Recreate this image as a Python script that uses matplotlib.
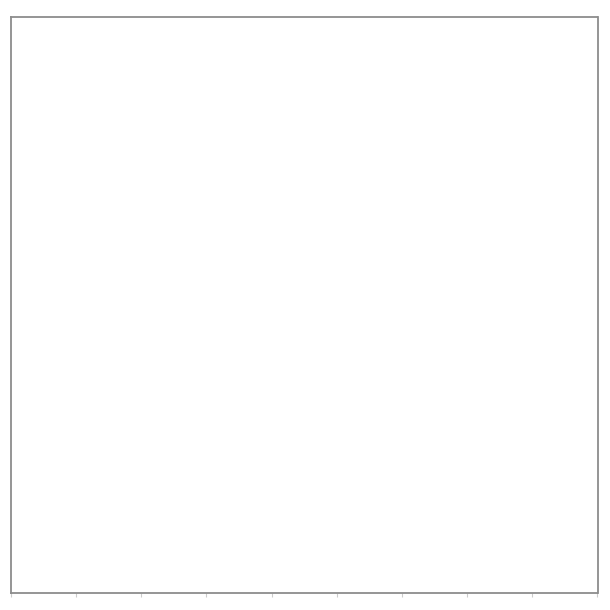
import matplotlib
matplotlib.use('Agg')
import matplotlib.pyplot as plt

# the chart has no visible marks, only an empty frame with faint x ticks
x_ticks = [0, 1, 2, 3, 4, 5, 6, 7, 8, 9]
x_range = (0, 9)

W, H = 610, 610
fig = plt.figure(figsize=(W / 100, H / 100), dpi=100)
left, right, top, bottom = 11, 597.5, 17, 592.5
ax = fig.add_axes([left / W, (H - bottom) / H, (right - left) / W, (bottom - top) / H])
ax.set_xlim(*x_range)
ax.set_ylim(0, 1)
ax.set_xticks(x_ticks)
ax.set_xticklabels([])
ax.set_yticks([])
ax.tick_params(axis='x', length=3, width=0.8, color='#cccccc', direction='out')
for s in ax.spines.values():
    s.set_color('#8c8c8c')
    s.set_linewidth(1.3)

fig.savefig('out.png', dpi=100)
